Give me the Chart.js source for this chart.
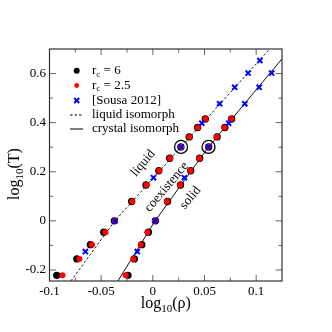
<!DOCTYPE html>
<html>
<head>
<meta charset="utf-8">
<script src="https://cdn.jsdelivr.net/npm/chart.js@4.4.0/dist/chart.umd.min.js"></script>
<style>
  html, body { margin: 0; padding: 0; background: #fff; }
</style>
</head>
<body>
<canvas id="myChart" width="332" height="332"></canvas>
<script>
// log10(T) of the simulated coexistence points (rc = 6 and rc = 2.5)
const coexT = [-0.222, -0.155, -0.097, -0.046, 0, 0.079, 0.146, 0.204, 0.255, 0.301, 0.342, 0.38, 0.415];
// log10(rho) on the liquid and solid branches
const liqRc6 = [-0.093, -0.0735, -0.0604, -0.0475, -0.0372, -0.0205, -0.0066, 0.0058, 0.0163, 0.0271, 0.0352, 0.0433, 0.0508];
const liqRc25 = [-0.0874, -0.0711, -0.0589, -0.0458, -0.0367, -0.0199, -0.0062, 0.0061, 0.0166, 0.0273, 0.0354, 0.0435, 0.051];
const solRc6 = [-0.0241, -0.0179, -0.0107, -0.0043, 0.0025, 0.0142, 0.0268, 0.0366, 0.0453, 0.0541, 0.0622, 0.0697, 0.0762];
const solRc25 = [-0.0263, -0.0189, -0.0117, -0.0053, 0.0022, 0.0139, 0.0266, 0.0364, 0.0451, 0.0539, 0.062, 0.0695, 0.076];

// [Sousa 2012]
const sousaT = [-0.125, 0, 0.176, 0.301, 0.398, 0.477, 0.544, 0.602, 0.653];
const sousaLiq = [-0.0653, -0.0367, 0.0006, 0.0273, 0.0474, 0.0646, 0.0792, 0.0922, 0.1036];
const sousaSol = [-0.015, 0.0022, 0.0305, 0.0539, 0.0734, 0.089, 0.1029, 0.115];

// isomorph curves
const liqIsoRho = [-0.0793, -0.0367, 0.0273, 0.1127];
const liqIsoT = [-0.245, 0, 0.301, 0.698];
const solIsoRho = [-0.0338, 0.0022, 0.0539, 0.125];
const solIsoT = [-0.245, 0, 0.301, 0.66];

// circled reference points
const markRho = [0.0273, 0.0539];
const markT = [0.301, 0.301];

// axis ticks
const xMajor = [-0.1, -0.05, 0, 0.05, 0.1];
const xMinor = [-0.075, -0.025, 0.025, 0.075];
const yMajor = [-0.2, 0, 0.2, 0.4, 0.6];
const yMinor = [-0.1, 0.1, 0.3, 0.5];

const ctx = document.getElementById("myChart");
const serif = "'Liberation Serif', 'Times New Roman', serif";

function pts(xs, ys) {
  return xs.map((x, i) => ({ x: x, y: ys[i] }));
}

// text with subscripts: parts = [[text, isSub], ...]
function subText(c, parts, x, y, size) {
  const big = size + "px " + serif;
  const small = Math.round(size * 0.68) + "px " + serif;
  let w = 0;
  parts.forEach(p => { c.font = p[1] ? small : big; w += c.measureText(p[0]).width; });
  let cx = x - w / 2;
  c.textAlign = "left";
  c.textBaseline = "alphabetic";
  parts.forEach(p => {
    c.font = p[1] ? small : big;
    c.fillText(p[0], cx, p[1] ? y + size * 0.28 : y);
    cx += c.measureText(p[0]).width;
  });
}

const decor = {
  id: "decor",
  afterDraw(chart) {
    const c = chart.ctx;
    const a = chart.chartArea;
    const sx = chart.scales.x;
    const sy = chart.scales.y;
    c.save();

    // inward ticks on all four sides
    c.strokeStyle = "#666";
    c.lineWidth = 1;
    function seg(x1, y1, x2, y2) {
      c.beginPath(); c.moveTo(x1, y1); c.lineTo(x2, y2); c.stroke();
    }
    xMajor.forEach(v => { const p = sx.getPixelForValue(v); seg(p, a.bottom, p, a.bottom - 6); seg(p, a.top, p, a.top + 6); });
    xMinor.forEach(v => { const p = sx.getPixelForValue(v); seg(p, a.bottom, p, a.bottom - 3.5); seg(p, a.top, p, a.top + 3.5); });
    yMajor.forEach(v => { const p = sy.getPixelForValue(v); seg(a.left, p, a.left + 6.5, p); seg(a.right, p, a.right - 6.5, p); });
    yMinor.forEach(v => { const p = sy.getPixelForValue(v); seg(a.left, p, a.left + 3.5, p); seg(a.right, p, a.right - 3.5, p); });

    c.strokeStyle = "#333";
    c.lineWidth = 1.2;
    c.strokeRect(a.left, a.top, a.right - a.left, a.bottom - a.top);

    c.fillStyle = "#000";
    // axis titles
    subText(c, [["log", false], ["10", true], ["(\u03c1)", false]], (a.left + a.right) / 2, 307.5, 16);
    c.save();
    c.translate(19, 174);
    c.rotate(-Math.PI / 2);
    subText(c, [["log", false], ["10", true], ["(T)", false]], 0, 0, 16);
    c.restore();

    // rotated phase labels
    c.font = "13px " + serif;
    c.textAlign = "center";
    c.textBaseline = "middle";
    [["liquid", -0.0095, 0.235], ["coexistence", 0.0134, 0.138], ["solid", 0.0364, 0.094]].forEach(l => {
      c.save();
      c.translate(sx.getPixelForValue(l[1]), sy.getPixelForValue(l[2]));
      c.rotate(-50 * Math.PI / 180);
      c.fillText(l[0], 0, 0);
      c.restore();
    });

    // legend
    const lx = 76.7, tx = 92;
    const rows = [70.7, 85.5, 100.5, 115, 129];
    c.fillStyle = "#000";
    c.beginPath(); c.arc(lx, rows[0], 3, 0, Math.PI * 2); c.fill();
    c.fillStyle = "#ff0000";
    c.beginPath(); c.arc(lx, rows[1], 2.4, 0, Math.PI * 2); c.fill();
    c.strokeStyle = "#0000ff";
    c.lineWidth = 2;
    seg(lx - 2.5, rows[2] - 2.5, lx + 2.5, rows[2] + 2.5);
    seg(lx - 2.5, rows[2] + 2.5, lx + 2.5, rows[2] - 2.5);
    c.strokeStyle = "#000";
    c.lineWidth = 1;
    c.setLineDash([2.5, 2]);
    seg(70, rows[3], 83, rows[3]);
    c.setLineDash([]);
    seg(70, rows[4], 83, rows[4]);

    c.fillStyle = "#000";
    c.textAlign = "left";
    c.textBaseline = "middle";
    const fs = 13;
    function rc(val, y) {
      c.font = fs + "px " + serif;
      c.fillText("r", tx, y);
      let w = c.measureText("r").width;
      c.font = "9px " + serif;
      c.fillText("c", tx + w, y + 3.5);
      w += c.measureText("c").width;
      c.font = fs + "px " + serif;
      c.fillText(" = " + val, tx + w, y);
    }
    rc("6", rows[0]);
    rc("2.5", rows[1]);
    c.font = fs + "px " + serif;
    c.fillText("[Sousa 2012]", tx, rows[2]);
    c.fillText("liquid isomorph", tx, rows[3]);
    c.fillText("crystal isomorph", tx, rows[4]);

    c.restore();
  }
};

const data = {
  datasets: [
    {
      data: pts(markRho, markT),
      pointStyle: "circle",
      pointRadius: 6.5,
      pointBackgroundColor: "rgba(0,0,0,0)",
      pointBorderColor: "#000",
      pointBorderWidth: 1.3,
      showLine: false,
      order: 0,
    },
    {
      data: pts(sousaLiq, sousaT),
      pointStyle: "crossRot",
      pointRadius: 3.6,
      pointBorderColor: "#0000ff",
      pointBorderWidth: 2,
      showLine: false,
      order: 1,
    },
    {
      data: pts(sousaSol, sousaT),
      pointStyle: "crossRot",
      pointRadius: 3.6,
      pointBorderColor: "#0000ff",
      pointBorderWidth: 2,
      showLine: false,
      order: 1,
    },
    {
      data: pts(liqRc25, coexT),
      pointRadius: 3,
      pointBackgroundColor: "#ff0000",
      pointBorderWidth: 0,
      showLine: false,
      order: 2,
    },
    {
      data: pts(solRc25, coexT),
      pointRadius: 3,
      pointBackgroundColor: "#ff0000",
      pointBorderWidth: 0,
      showLine: false,
      order: 2,
    },
    {
      data: pts(liqRc6, coexT),
      pointRadius: 3.7,
      pointBackgroundColor: "#000",
      pointBorderWidth: 0,
      showLine: false,
      order: 3,
    },
    {
      data: pts(solRc6, coexT),
      pointRadius: 3.7,
      pointBackgroundColor: "#000",
      pointBorderWidth: 0,
      showLine: false,
      order: 3,
    },
    {
      data: pts(liqIsoRho, liqIsoT),
      showLine: true,
      borderColor: "#222",
      borderWidth: 1,
      borderDash: [2.5, 2],
      pointRadius: 0,
      order: 4,
    },
    {
      data: pts(solIsoRho, solIsoT),
      showLine: true,
      borderColor: "#111",
      borderWidth: 1,
      pointRadius: 0,
      order: 4,
    },
  ],
};

const config = {
  type: "scatter",
  data: data,
  options: {
    responsive: false,
    animation: false,
    layout: { padding: { top: 49, right: 50, left: 0, bottom: 0 } },
    plugins: { legend: { display: false }, tooltip: { enabled: false } },
    scales: {
      x: {
        type: "linear",
        min: -0.1,
        max: 0.125,
        afterFit: (s) => { s.height = 51; },
        afterBuildTicks: (s) => { s.ticks = xMajor.map(v => ({ value: v })); },
        grid: { display: false, drawTicks: false },
        border: { display: false },
        ticks: {
          padding: 3,
          maxRotation: 0,
          autoSkip: false,
          color: "#000",
          font: { family: serif, size: 13 },
          callback: (v) => String(v),
        },
      },
      y: {
        type: "linear",
        min: -0.245,
        max: 0.7,
        afterFit: (s) => { s.width = 49.5; },
        afterBuildTicks: (s) => { s.ticks = yMajor.map(v => ({ value: v })); },
        grid: { display: false, drawTicks: false },
        border: { display: false },
        ticks: {
          padding: 3.5,
          autoSkip: false,
          color: "#000",
          font: { family: serif, size: 13 },
          callback: (v) => String(v),
        },
      },
    },
  },
  plugins: [decor],
};

const myChart = new Chart(ctx, config);
</script>
</body>
</html>
